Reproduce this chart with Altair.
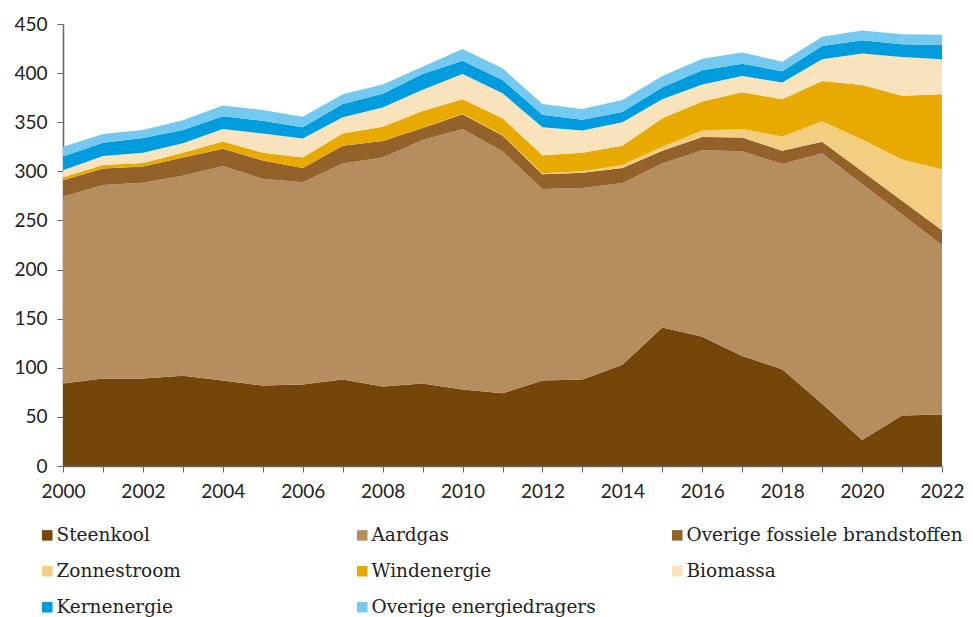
import altair as alt
import pandas as pd

years = list(range(2000, 2023))

series_names = [
    "Steenkool", "Aardgas", "Overige fossiele brandstoffen",
    "Zonnestroom", "Windenergie", "Biomassa",
    "Kernenergie", "Overige energiedragers",
]
series_colors = [
    "#74460a", "#b68d5f", "#93622a",
    "#f3cd80", "#e8aa00", "#f9e3bc",
    "#009cde", "#73c9ef",
]

steenkool = [84, 89, 89, 92, 87, 82, 83, 88, 81, 84, 78, 74, 87, 88, 103, 141, 131.5, 112, 98.5, 63.5, 26.5, 51.5, 52.5]
aardgas = [190, 197, 199.5, 203.5, 218.5, 210.5, 206, 220, 233, 248, 265, 246.5, 195, 195, 185, 167, 190, 208.5, 209, 255, 260.5, 204.5, 172.5]
overig_fossiel = [17, 17, 16.5, 18.5, 17.5, 18.5, 14.5, 18, 17, 12, 15, 16, 15, 15.5, 15.5, 13, 13.5, 14, 13.5, 11.5, 13, 14, 15]
zonnestroom = [0, 0, 0, 0, 0, 0, 0, 0, 0, 0, 0.5, 0.5, 1, 1.5, 3, 4, 6.5, 8.5, 14.5, 21, 32.5, 42, 62]
windenergie = [3, 3.5, 3.5, 5, 7.5, 8, 10.5, 12.5, 14.5, 17.5, 15, 17, 18.5, 19, 19.5, 29, 29.5, 37.5, 38, 41, 55.5, 65, 76.5]
biomassa = [7, 9, 10.5, 9.5, 12.5, 19.5, 19.5, 16.5, 19.5, 21.5, 25.5, 25.5, 28.5, 22.5, 24, 19.5, 17.5, 16.5, 17, 22, 32, 39.5, 35.5]
kernenergie = [14, 13.5, 15, 13.5, 13, 13, 11.5, 13.5, 14, 16, 13.5, 13.5, 12.5, 11, 10.5, 12, 14.5, 12.5, 11.5, 13.5, 13.5, 13, 14.5]
overig = [10, 9, 8, 10, 11, 11, 10.5, 10, 9.5, 7.5, 12, 12, 11, 11, 12, 11.5, 11.5, 11.5, 9.5, 9.5, 10, 10, 10.5]

all_series = [steenkool, aardgas, overig_fossiel, zonnestroom, windenergie, biomassa, kernenergie, overig]

rows = []
for idx, (name, vals) in enumerate(zip(series_names, all_series)):
    for y, v in zip(years, vals):
        rows.append({"jaar": y, "bron": name, "waarde": v, "volgorde": idx})
df = pd.DataFrame(rows)

chart = (
    alt.Chart(df)
    .mark_area(interpolate="linear")
    .encode(
        x=alt.X(
            "jaar:Q",
            scale=alt.Scale(domain=[2000, 2022], nice=False, zero=False),
            axis=alt.Axis(
                values=years,
                labelExpr="datum.value % 2 == 0 ? datum.label : ''",
                format="d",
                title=None,
                grid=False,
                tickSize=6,
                labelPadding=10,
                labelFlush=False,
                labelOverlap=False,
            ),
        ),
        y=alt.Y(
            "waarde:Q",
            stack="zero",
            scale=alt.Scale(domain=[0, 450], nice=False),
            axis=alt.Axis(
                values=list(range(0, 451, 50)),
                title=None,
                grid=False,
                tickSize=6,
                labelPadding=10,
            ),
        ),
        color=alt.Color(
            "bron:N",
            scale=alt.Scale(domain=series_names, range=series_colors),
            sort=series_names,
            legend=alt.Legend(
                title=None,
                orient="none",
                legendX=-25,
                legendY=502,
                columns=3,
                direction="horizontal",
                gridAlign="all",
                columnPadding=20,
                rowPadding=17,
                symbolType="square",
                symbolSize=110,
                symbolStrokeWidth=0,
                symbolOpacity=1,
                labelFont="DejaVu Serif",
                labelFontSize=18.5,
                labelColor="#222222",
                labelOffset=0,
                labelLimit=400,
            ),
        ),
        order=alt.Order("volgorde:Q", sort="ascending"),
    )
    .properties(
        width=879,
        height=442,
        autosize=alt.AutoSizeParams(type="none"),
        padding={"left": 55, "top": 16, "right": 23, "bottom": 151},
    )
    .configure_view(stroke=None)
    .configure_axis(
        labelFont="Lato",
        labelFontSize=19,
        labelColor="#222222",
        domainColor="#666666",
        tickColor="#666666",
        domainWidth=1.5,
    )
)

chart.save("out.html", embed_options={"renderer": "svg", "actions": False})
